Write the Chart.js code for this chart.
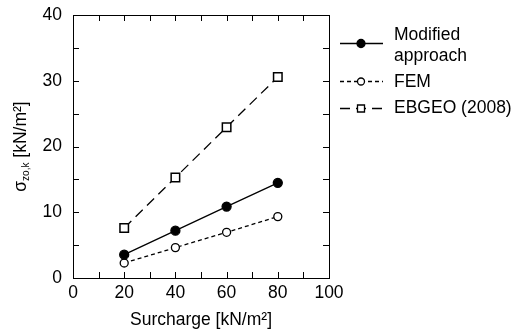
<!DOCTYPE html>
<html>
<head>
<meta charset="utf-8">
<script src="https://cdn.jsdelivr.net/npm/chart.js@4"></script>
<style>
    html, body { margin: 0; padding: 0; background: #fff; }
    #wrap { width: 519px; height: 331px; }
</style>
</head>
<body>
<div id="wrap"><canvas id="grafico"></canvas></div>
<script>
const surcharge = [20, 40, 60, 80];
const modifiedApproach = [3.55, 7.2, 10.86, 14.47];
const fem = [2.28, 4.62, 6.95, 9.34];
const ebgeo = [7.6, 15.28, 22.94, 30.56];
const xTicks = [0, 20, 40, 60, 80, 100];
const yTicks = [0, 10, 20, 30, 40];
const legendLabels = [['Modified', 'approach'], ['FEM'], ['EBGEO (2008)']];

const fonte = 'Liberation Sans, Arial, sans-serif';
const tamanho = 17.5;

function pontos(valores) {
    return surcharge.map((x, i) => ({ x, y: valores[i] }));
}

function escrever(ctx, txt, x, y, alinhamento) {
    ctx.font = tamanho + 'px ' + fonte;
    ctx.textBaseline = 'middle';
    ctx.textAlign = alinhamento;
    ctx.fillText(txt, x, y);
}

// moldura, ticks para dentro, rotulos, titulos dos eixos e legenda
const desenhoExtra = {
    id: 'desenhoExtra',
    afterDraw(chart) {
        const ctx = chart.ctx;
        const area = chart.chartArea;
        const sx = chart.scales.x;
        const sy = chart.scales.y;
        ctx.save();
        ctx.strokeStyle = '#000';
        ctx.fillStyle = '#000';
        ctx.lineWidth = 1;
        ctx.strokeRect(Math.round(area.left) + 0.5, Math.round(area.top) + 0.5,
            Math.round(area.right - area.left), Math.round(area.bottom - area.top));

        const t = 6;
        ctx.beginPath();
        for (let v = 10; v < 100; v += 10) {
            const px = Math.round(sx.getPixelForValue(v)) + 0.5;
            ctx.moveTo(px, area.bottom); ctx.lineTo(px, area.bottom - t);
            ctx.moveTo(px, area.top); ctx.lineTo(px, area.top + t);
        }
        for (let v = 5; v < 40; v += 5) {
            const py = Math.round(sy.getPixelForValue(v)) + 0.5;
            ctx.moveTo(area.left, py); ctx.lineTo(area.left + t, py);
            ctx.moveTo(area.right, py); ctx.lineTo(area.right - t, py);
        }
        ctx.stroke();

        // rotulos dos ticks
        sx.ticks.forEach(tk => escrever(ctx, String(tk.value), sx.getPixelForValue(tk.value), area.bottom + 15, 'center'));
        sy.ticks.forEach(tk => escrever(ctx, String(tk.value), area.left - 11, sy.getPixelForValue(tk.value), 'right'));

        // titulo eixo x
        escrever(ctx, 'Surcharge [kN/m²]', (area.left + area.right) / 2, 320, 'center');

        // titulo eixo y com subscrito
        ctx.save();
        ctx.translate(21, (area.top + area.bottom) / 2);
        ctx.rotate(-Math.PI / 2);
        ctx.textAlign = 'left';
        ctx.textBaseline = 'middle';
        const partes = [
            { txt: 'σ', size: tamanho, dy: 0 },
            { txt: 'zo,k', size: 10, dy: 5 },
            { txt: ' [kN/m²]', size: tamanho, dy: 0 }
        ];
        let total = 0;
        partes.forEach(p => { ctx.font = p.size + 'px ' + fonte; total += ctx.measureText(p.txt).width; });
        let xx = -total / 2;
        partes.forEach(p => {
            ctx.font = p.size + 'px ' + fonte;
            ctx.fillText(p.txt, xx, p.dy);
            xx += ctx.measureText(p.txt).width;
        });
        ctx.restore();

        // legenda
        const linhas = [
            { y: 43.5, dash: [], estilo: 'circle', cheio: true, textos: [35, 56] },
            { y: 81.5, dash: [4, 3], estilo: 'circle', cheio: false, textos: [82] },
            { y: 108.5, dash: [10, 6], estilo: 'rect', cheio: false, textos: [108] }
        ];
        linhas.forEach((l, i) => {
            ctx.beginPath();
            ctx.setLineDash(l.dash);
            ctx.lineWidth = 1.3;
            ctx.moveTo(340, l.y); ctx.lineTo(383, l.y);
            ctx.stroke();
            ctx.setLineDash([]);
            ctx.beginPath();
            if (l.estilo === 'circle') {
                ctx.arc(361, l.y, l.cheio ? 4 : 3.5, 0, Math.PI * 2);
            } else {
                ctx.rect(357.5, l.y - 3.5, 7, 7);
            }
            ctx.fillStyle = l.cheio ? '#000' : '#fff';
            ctx.fill();
            ctx.stroke();
            ctx.fillStyle = '#000';
            legendLabels[i].forEach((txt, j) => escrever(ctx, txt, 394, l.textos[j], 'left'));
        });
        ctx.restore();
    }
};

const ctx = document.getElementById('grafico').getContext('2d');
new Chart(ctx, {
    type: 'line',
    data: {
        datasets: [
            {
                label: 'Modified approach',
                data: pontos(modifiedApproach),
                borderColor: '#000',
                borderWidth: 1.3,
                pointStyle: 'circle',
                pointRadius: 4.5,
                pointBackgroundColor: '#000',
                pointBorderColor: '#000'
            },
            {
                label: 'FEM',
                data: pontos(fem),
                borderColor: '#000',
                borderWidth: 1.3,
                borderDash: [4, 3],
                pointStyle: 'circle',
                pointRadius: 4,
                pointBorderWidth: 1.3,
                pointBackgroundColor: '#fff',
                pointBorderColor: '#000'
            },
            {
                label: 'EBGEO (2008)',
                data: pontos(ebgeo),
                borderColor: '#000',
                borderWidth: 1.3,
                borderDash: [10, 6],
                pointStyle: 'rect',
                pointRadius: 6,
                pointBorderWidth: 1.5,
                pointBackgroundColor: '#fff',
                pointBorderColor: '#000'
            }
        ]
    },
    options: {
        responsive: true,
        maintainAspectRatio: false,
        animation: false,
        layout: { padding: { top: 15, right: 190, bottom: 0, left: 0 } },
        plugins: { legend: { display: false }, tooltip: { enabled: false } },
        scales: {
            x: {
                type: 'linear',
                min: 0,
                max: 100,
                afterBuildTicks: (scale) => { scale.ticks = xTicks.map(v => ({ value: v })); },
                afterFit: (scale) => { scale.height = 53; },
                grid: { display: false, drawTicks: false },
                border: { display: false },
                ticks: { display: false }
            },
            y: {
                min: 0,
                max: 40,
                afterBuildTicks: (scale) => { scale.ticks = yTicks.map(v => ({ value: v })); },
                afterFit: (scale) => { scale.width = 73; },
                grid: { display: false, drawTicks: false },
                border: { display: false },
                ticks: { display: false }
            }
        }
    },
    plugins: [desenhoExtra]
});
</script>
</body>
</html>
